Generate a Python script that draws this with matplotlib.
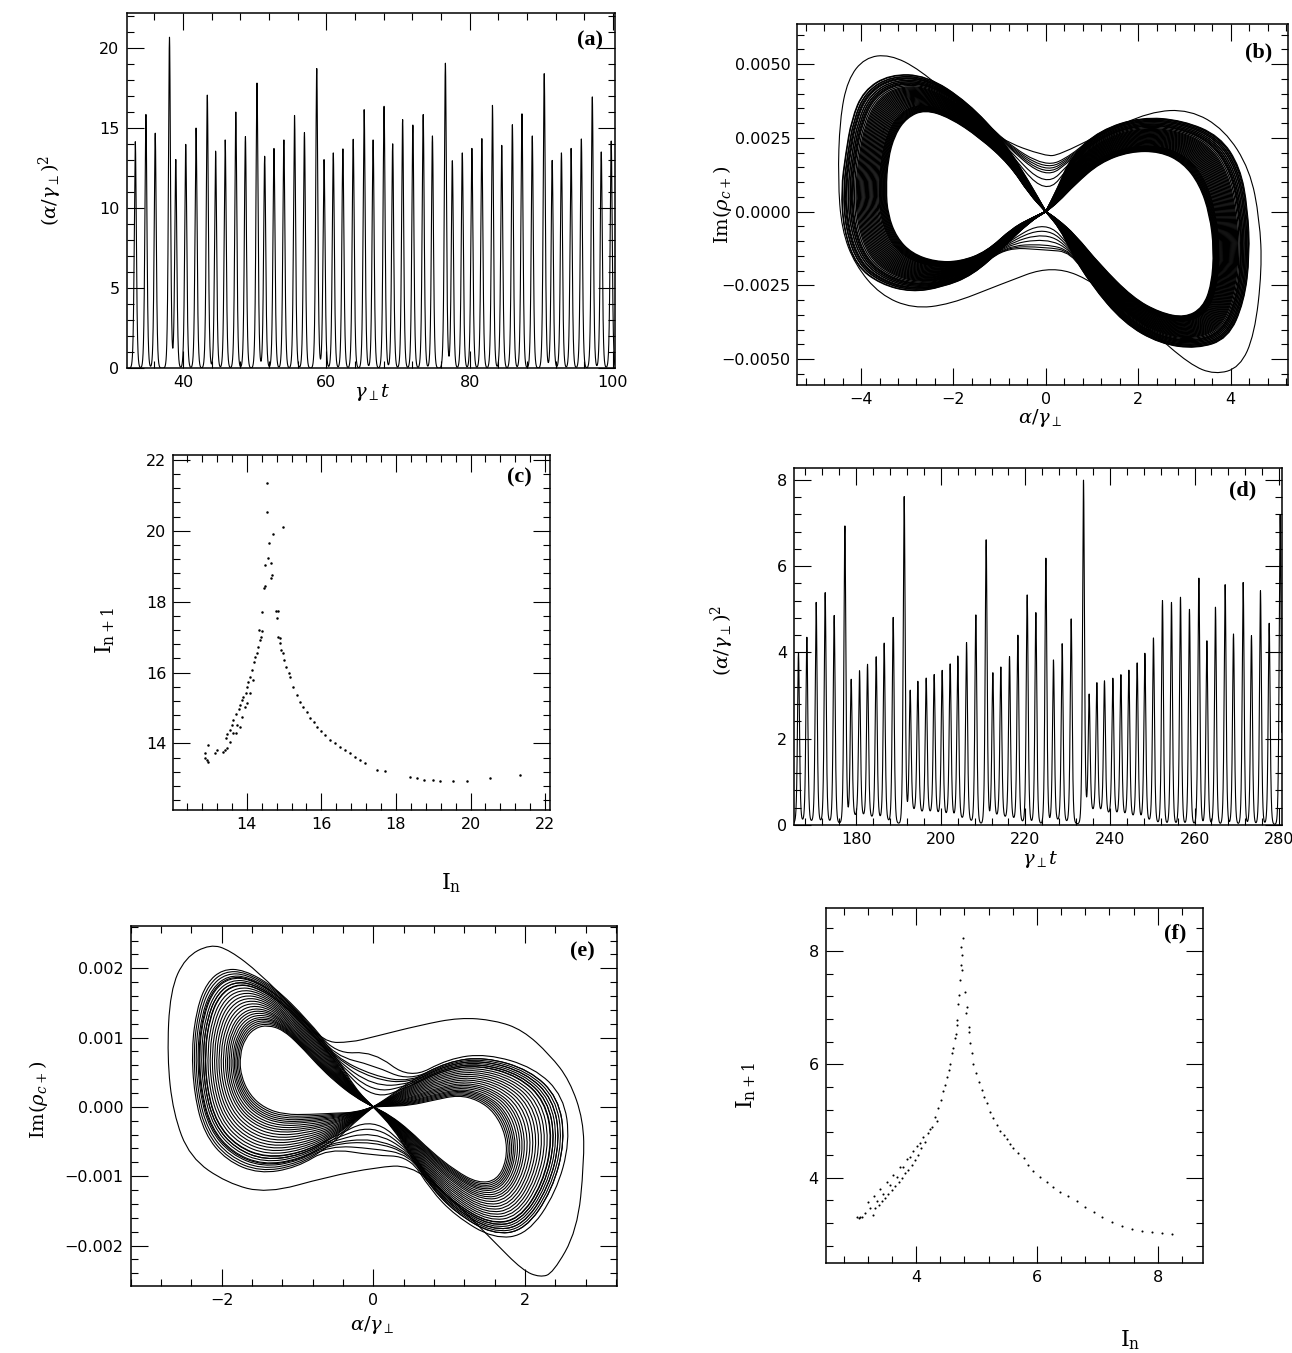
import numpy as np
import matplotlib
matplotlib.use("Agg")
import matplotlib.pyplot as plt
from matplotlib.path import Path
from matplotlib.patches import PathPatch
from matplotlib.ticker import MultipleLocator, FuncFormatter

# ---- (a) pulse peaks: time, height
A_T = [33.33, 34.81, 36.11, 38.10, 38.98, 40.37, 41.81, 43.38, 44.54, 45.88, 47.36, 48.70,
       50.32, 51.39, 52.69, 54.07, 55.56, 56.94, 58.66, 59.68, 60.97, 62.31, 63.75, 65.28,
       66.53, 68.06, 69.26, 70.65, 72.08, 73.52, 74.81, 76.62, 77.59, 78.98, 80.32, 81.71,
       83.19, 84.49, 85.97, 87.31, 88.75, 90.42, 91.53, 92.82, 94.17, 95.60, 97.13, 98.38, 99.77]
A_H = [14.16, 15.86, 14.69, 20.68, 13.04, 13.99, 15.01, 17.07, 13.57, 14.27, 16.01, 14.48,
       17.82, 13.25, 13.74, 14.27, 15.80, 14.73, 18.73, 13.04, 13.46, 13.71, 14.31, 16.16,
       14.27, 16.37, 14.03, 15.54, 15.20, 15.86, 14.52, 19.06, 12.97, 13.46, 13.74, 14.35,
       16.43, 13.93, 15.22, 15.90, 14.52, 18.41, 12.99, 13.46, 13.74, 14.33, 16.96, 13.52, 14.20]

# ---- (d) pulse peaks + level of the valleys around each pulse
D_T = [166.36, 168.34, 170.54, 172.67, 174.80, 177.33, 178.82, 180.79, 182.68, 184.73, 186.62,
       188.75, 191.35, 192.77, 194.58, 196.55, 198.44, 200.33, 202.22, 204.03, 206.09, 208.29,
       210.73, 212.31, 214.20, 216.25, 218.23, 220.43, 222.48, 224.85, 226.64, 228.70, 230.83,
       233.74, 235.08, 236.90, 238.70, 240.68, 242.58, 244.47, 246.43, 248.25, 250.28, 252.41,
       254.54, 256.67, 258.79, 261.02, 262.91, 264.94, 267.23, 269.20, 271.49, 273.45, 275.58,
       277.64, 280.24]
D_H = [4.00, 4.35, 5.16, 5.39, 4.86, 6.88, 3.38, 3.56, 3.71, 3.89, 4.21, 4.81, 7.52, 3.13, 3.30,
       3.38, 3.46, 3.56, 3.71, 3.90, 4.23, 4.87, 6.56, 3.54, 3.65, 3.90, 4.39, 5.33, 4.93, 6.16,
       3.84, 4.20, 4.78, 7.89, 3.04, 3.26, 3.31, 3.38, 3.46, 3.57, 3.74, 3.97, 4.33, 5.20, 5.16,
       5.28, 5.00, 5.72, 4.27, 5.05, 5.57, 4.43, 5.62, 4.39, 5.43, 4.68, 7.19]
D_B = [0.10, 0.10, 0.10, 0.10, 0.08, 0.03, 0.22, 0.22, 0.20, 0.18, 0.14, 0.07, 0.00, 0.33, 0.31,
       0.29, 0.27, 0.25, 0.22, 0.18, 0.14, 0.07, 0.00, 0.22, 0.20, 0.18, 0.10, 0.07, 0.07, 0.00,
       0.14, 0.10, 0.07, 0.00, 0.33, 0.31, 0.29, 0.27, 0.25, 0.22, 0.18, 0.14, 0.07, 0.03, 0.03,
       0.03, 0.03, 0.02, 0.03, 0.03, 0.02, 0.03, 0.02, 0.03, 0.02, 0.03, 0.00]

# ---- (c) return map points I_n, I_n+1
C_X = [14.55, 14.55, 14.69, 14.98, 14.60, 14.56, 14.49, 14.64, 14.67, 14.66, 14.49, 14.45, 14.40,
       14.78, 14.83, 14.80, 14.85, 14.89, 14.33, 14.42, 14.38, 14.36,
       14.31, 14.27, 14.22, 14.20, 14.13, 14.09, 14.04, 14.00, 13.98, 13.91, 13.87, 13.82, 13.78,
       13.71, 13.64, 13.60, 13.55, 13.48, 13.45, 13.42, 13.37,
       14.18, 14.09, 14.00, 13.94, 13.87, 13.75, 13.64, 13.55, 13.46, 13.82, 13.71,
       12.88, 12.93, 12.97, 12.95, 13.15, 13.20, 12.88,
       14.89, 14.92, 14.98, 15.01, 15.05, 15.12, 15.16, 15.25, 15.34, 15.43, 15.52, 15.61, 15.70,
       15.79, 15.88, 15.98, 16.10, 16.23, 16.37, 16.50, 16.64, 16.77, 16.90, 17.04, 17.17, 17.49,
       17.71, 18.38, 18.56, 18.74, 19.00, 19.18, 19.54, 19.90, 20.52, 21.33]
C_Y = [21.34, 20.54, 19.91, 20.12, 19.65, 19.23, 19.04, 19.08, 18.76, 18.66, 18.43, 18.38, 17.72,
       17.75, 17.75, 17.53, 17.01, 16.97, 17.20, 17.17, 17.01, 16.92,
       16.73, 16.56, 16.45, 16.31, 16.07, 15.88, 15.74, 15.60, 15.41, 15.32, 15.22, 15.08, 14.96,
       14.83, 14.66, 14.52, 14.38, 14.26, 14.14, 13.81, 13.75,
       15.79, 15.41, 15.13, 15.04, 14.75, 14.52, 14.28, 14.05, 13.86, 14.47, 14.28,
       13.72, 13.53, 13.48, 13.95, 13.72, 13.81, 13.58,
       16.82, 16.64, 16.54, 16.35, 16.17, 15.98, 15.88, 15.60, 15.37, 15.18, 15.04, 14.89, 14.71,
       14.61, 14.47, 14.36, 14.24, 14.09, 14.00, 13.91, 13.81, 13.72, 13.62, 13.53, 13.45, 13.25,
       13.22, 13.04, 13.01, 12.98, 12.96, 12.95, 12.95, 12.95, 13.01, 13.11]

# ---- (f) return map points
F_X = [4.77, 4.74, 4.76, 4.75, 4.73, 4.76, 4.81, 4.71, 4.84, 4.70, 4.82, 4.67, 4.68, 4.88, 4.88,
       4.66, 4.65, 4.89,
       4.61, 4.60, 4.57, 4.54, 4.51, 4.48, 4.45, 4.41, 4.37, 4.31, 4.26, 4.20, 4.15, 4.09, 4.04,
       3.98, 3.93, 3.87, 3.82, 3.76, 3.71, 3.65, 3.60, 3.54, 3.49, 3.43, 3.38, 3.32, 3.29,
       4.12, 4.01, 3.90, 3.79, 3.68, 3.57, 3.46, 3.35, 3.24, 3.16, 3.10, 3.05, 3.07, 3.02,
       4.34, 4.23, 4.06, 3.95, 3.85, 3.74, 3.62, 3.52, 3.41, 3.30, 3.20,
       4.92, 4.95, 5.00, 5.04, 5.09, 5.13, 5.17, 5.23, 5.28, 5.34, 5.39, 5.45, 5.50, 5.56, 5.61,
       5.69, 5.78, 5.86, 5.94, 6.05, 6.16, 6.27, 6.38, 6.52, 6.66, 6.80, 6.94, 7.07, 7.24, 7.41,
       7.57, 7.74, 7.90, 8.07, 8.23]
F_Y = [8.23, 8.07, 7.92, 7.75, 7.48, 7.66, 7.28, 7.22, 7.01, 7.07, 6.90, 6.78, 6.69, 6.66, 6.57,
       6.54, 6.46, 6.37,
       6.28, 6.19, 6.01, 5.90, 5.78, 5.63, 5.52, 5.37, 5.22, 5.07, 4.90, 4.78, 4.63, 4.52, 4.40,
       4.31, 4.22, 4.14, 4.08, 4.00, 3.93, 3.85, 3.78, 3.72, 3.65, 3.58, 3.52, 3.46, 3.34,
       4.72, 4.55, 4.37, 4.19, 4.02, 3.87, 3.72, 3.58, 3.46, 3.37, 3.31, 3.28, 3.30, 3.30,
       5.00, 4.86, 4.61, 4.47, 4.33, 4.19, 4.05, 3.93, 3.80, 3.68, 3.57,
       6.19, 6.01, 5.84, 5.69, 5.54, 5.43, 5.31, 5.16, 5.05, 4.93, 4.83, 4.75, 4.68, 4.60, 4.53,
       4.43, 4.34, 4.22, 4.11, 4.02, 3.93, 3.84, 3.75, 3.67, 3.58, 3.49, 3.40, 3.31, 3.22, 3.15,
       3.10, 3.06, 3.04, 3.03, 3.01]

# ---- (b) attractor: inner / outer edge of the dense band of each lobe
B_LIN_X = [-0.24, -0.71, -1.28, -1.86, -2.40, -2.90, -3.23, -3.42, -3.46, -3.42, -3.27, -3.01,
           -2.62, -2.08, -1.43, -0.78, -0.35]
B_LIN_Y = [-0.00017, -0.00054, -0.00136, -0.00170, -0.00170, -0.00142, -0.00088, -0.00010,
           0.00075, 0.00176, 0.00261, 0.00319, 0.00346, 0.00319, 0.00251, 0.00159, 0.00058]
B_LOUT_X = [-0.35, -0.89, -1.54, -2.19, -2.84, -3.48, -3.98, -4.24, -4.29, -4.20, -4.07, -3.81,
            -3.27, -2.51, -1.65, -0.89, -0.35]
B_LOUT_Y = [-0.00034, -0.00112, -0.00204, -0.00244, -0.00258, -0.00231, -0.00170, -0.00054,
            0.00075, 0.00193, 0.00305, 0.00397, 0.00448, 0.00441, 0.00353, 0.00227, 0.00092]
B_RIN_X = [0.26, 0.63, 1.17, 1.88, 2.47, 3.01, 3.40, 3.59, 3.64, 3.55, 3.33, 2.97, 2.47, 1.82,
           1.17, 0.63, 0.26]
B_RIN_Y = [-0.00027, -0.00078, -0.00180, -0.00292, -0.00343, -0.00360, -0.00326, -0.00248,
           -0.00129, -0.00010, 0.00092, 0.00166, 0.00204, 0.00204, 0.00166, 0.00092, 0.00031]
B_ROUT_X = [0.30, 0.56, 1.00, 1.71, 2.47, 3.23, 3.87, 4.20, 4.31, 4.26, 4.09, 3.66, 2.90, 2.03,
            1.17, 0.56, 0.26]
B_ROUT_Y = [-0.00054, -0.00129, -0.00237, -0.00366, -0.00434, -0.00451, -0.00417, -0.00298,
            -0.00146, 0.00007, 0.00142, 0.00244, 0.00295, 0.00305, 0.00261, 0.00176, 0.00075]
B_OUT_X = [0.00, -1.00, -1.86, -2.73, -3.38, -3.92, -4.29, -4.46, -4.50, -4.42, -4.13, -3.59,
           -2.88, -2.08, -1.00, 0.15, 1.17, 2.25, 3.12, 3.66, 4.20, 4.52, 4.68, 4.63, 4.42, 3.87,
           3.12, 2.25, 1.17, 0.30]
B_OUT_Y = [0.00187, 0.00244, 0.00363, 0.00482, 0.00533, 0.00522, 0.00448, 0.00312, 0.00109,
           -0.00061, -0.00180, -0.00282, -0.00329, -0.00315, -0.00248, -0.00180, -0.00248,
           -0.00400, -0.00519, -0.00553, -0.00529, -0.00417, -0.00197, -0.00027, 0.00142,
           0.00278, 0.00346, 0.00339, 0.00261, 0.00193]
B_LF = [0.0, 0.02, 0.04, 0.06, 0.08, 0.1, 0.12, 0.14, 0.16, 0.18, 0.2, 0.23, 0.26, 0.29, 0.32,
        0.35, 0.38, 0.41, 0.44, 0.47, 0.5, 0.53, 0.56, 0.59, 0.62, 0.65, 0.68, 0.71, 0.74, 0.77,
        0.8, 0.84, 0.88, 0.92, 0.96, 1.0, 1.06, 1.11, 1.17]
B_RF = [0.0, 0.02, 0.04, 0.06, 0.08, 0.1, 0.12, 0.14, 0.16, 0.18, 0.2, 0.23, 0.26, 0.29, 0.32,
        0.35, 0.38, 0.41, 0.44, 0.47, 0.5, 0.53, 0.56, 0.59, 0.62, 0.65, 0.68, 0.71, 0.74, 0.77,
        0.8, 0.84, 0.88, 0.92, 0.96, 1.0, 1.05, 1.09, 1.14]
B_PF = [0.9, 0.95, 1.0, 1.04, 1.08, 1.12, 1.16]
B_PTOP = [0.0005, 0.0008, 0.0011, 0.0012, 0.0013, 0.0014, 0.0015]
B_PBOT = [-0.0003, -0.0005, -0.0007, -0.0009, -0.0011, -0.0012, -0.0013]

# ---- (e) attractor
E_LIN_X = [-0.24, -0.50, -0.84, -1.17, -1.43, -1.63, -1.75, -1.76, -1.69, -1.56, -1.39, -1.19,
           -0.97, -0.73, -0.50, -0.24]
E_LIN_Y = [-0.00008, -0.00009, -0.00011, -0.00011, -0.00002, 0.00017, 0.00046, 0.00075, 0.00099,
           0.00114, 0.00118, 0.00111, 0.00089, 0.00060, 0.00036, 0.00014]
E_LOUT_X = [-0.24, -0.57, -0.97, -1.43, -1.82, -2.09, -2.22, -2.25, -2.18, -2.05, -1.85, -1.59,
            -1.23, -0.84, -0.50, -0.24]
E_LOUT_Y = [-0.00019, -0.00048, -0.00070, -0.00077, -0.00060, -0.00026, 0.00024, 0.00082,
            0.00132, 0.00164, 0.00180, 0.00178, 0.00154, 0.00111, 0.00067, 0.00024]
E_RIN_X = [0.22, 0.48, 0.75, 1.08, 1.38, 1.63, 1.76, 1.75, 1.60, 1.38, 1.12, 0.81, 0.48, 0.22]
E_RIN_Y = [-0.00012, -0.00034, -0.00063, -0.00092, -0.00110, -0.00106, -0.00077, -0.00041,
           -0.00008, 0.00010, 0.00017, 0.00010, 0.00002, 0.00001]
E_ROUT_X = [0.25, 0.48, 0.75, 1.08, 1.54, 1.94, 2.26, 2.40, 2.30, 1.95, 1.41, 0.95, 0.48, 0.22]
E_ROUT_Y = [-0.00027, -0.00063, -0.00106, -0.00142, -0.00172, -0.00166, -0.00113, -0.00048,
            0.00010, 0.00046, 0.00063, 0.00056, 0.00031, 0.00013]
E_OUT_X = [0.00, 0.62, 1.14, 1.60, 1.97, 2.33, 2.59, 2.77, 2.78, 2.69, 2.37, 2.20, 1.97, 1.58,
           0.92, 0.48, 0.05, -0.61, -1.40, -1.93, -2.42, -2.64, -2.72, -2.68, -2.48, -2.15,
           -1.89, -1.50, -1.06, -0.66, -0.30]
E_OUT_Y = [0.00101, 0.00118, 0.00129, 0.00125, 0.00111, 0.00075, 0.00038, -0.00019, -0.00081,
           -0.00178, -0.00240, -0.00246, -0.00236, -0.00193, -0.00120, -0.00084, -0.00087,
           -0.00101, -0.00125, -0.00110, -0.00073, -0.00009, 0.00072, 0.00168, 0.00216, 0.00235,
           0.00226, 0.00193, 0.00144, 0.00093, 0.00093]
E_LF = [0.0, 0.04, 0.08, 0.12, 0.16, 0.2, 0.25, 0.3, 0.35, 0.4, 0.46, 0.52, 0.58, 0.64, 0.7,
        0.76, 0.82, 0.88, 0.94, 1.0, 1.12, 1.25]
E_RF = [0.0, 0.04, 0.08, 0.12, 0.16, 0.2, 0.25, 0.3, 0.35, 0.4, 0.46, 0.52, 0.58, 0.64, 0.7,
        0.76, 0.82, 0.88, 0.94, 1.0, 1.1, 1.2]
E_PF = [0.95, 1.0, 1.05, 1.1, 1.15, 1.2, 1.3]
E_PTOP = [0.0001, 0.0002, 0.0003, 0.0004, 0.00045, 0.0006, 0.0008]
E_PBOT = [-0.00015, -0.00025, -0.00035, -0.00045, -0.0005, -0.0006, -0.0007]

W, H = 1292, 1353
MINUS = "\u2212"


def px_axes(fig, x0, y0, x1, y1):
    return fig.add_axes([x0 / W, 1 - y1 / H, (x1 - x0) / W, (y1 - y0) / H])


def fmt(nd):
    def f(v, pos):
        s = "{:.{}f}".format(0.0 if abs(v) < 1e-12 else v, nd)
        return s.replace("-", MINUS)
    return FuncFormatter(f)


def setup(ax, xlim, ylim, xmaj, xmin, ymaj, ymin, xnd=0, ynd=0):
    ax.set_xlim(*xlim)
    ax.set_ylim(*ylim)
    ax.xaxis.set_major_locator(MultipleLocator(xmaj))
    ax.xaxis.set_minor_locator(MultipleLocator(xmin))
    ax.yaxis.set_major_locator(MultipleLocator(ymaj))
    ax.yaxis.set_minor_locator(MultipleLocator(ymin))
    ax.xaxis.set_major_formatter(fmt(xnd))
    ax.yaxis.set_major_formatter(fmt(ynd))
    ax.tick_params(which="both", direction="in", top=True, right=True, width=0.8)
    ax.tick_params(which="major", length=12, labelsize=11.5, pad=5)
    ax.tick_params(which="minor", length=5)
    for s in ax.spines.values():
        s.set_linewidth(1.1)


def panel_tag(ax, txt, fx, fy):
    ax.text(fx, fy, txt, transform=ax.transAxes, ha="center", va="center",
            fontsize=16, fontweight="bold", family="Liberation Serif")


def fig_label(fig, px, py, txt, rot=0, size=14):
    fig.text(px / W, 1 - py / H, txt, ha="center", va="center", rotation=rot, fontsize=size)


def sech2(x):
    return 1.0 / np.cosh(x) ** 2


def pulse_train(t, tp, hp, w, base=None, wb=1.2):
    y = np.zeros_like(t)
    for k in range(len(tp)):
        b = 0.0 if base is None else base[k]
        y += (hp[k] - b) * sech2((t - tp[k]) / w)
        if base is not None:
            y += b * sech2((t - tp[k]) / wb) / 1.2
    return y


# quadratic bezier loop through the midpoints of a control polygon
def bezier_loop(xs, ys):
    n = len(xs)
    mx = [(xs[i] + xs[(i + 1) % n]) / 2 for i in range(n)]
    my = [(ys[i] + ys[(i + 1) % n]) / 2 for i in range(n)]
    verts = [(mx[-1], my[-1])]
    codes = [Path.MOVETO]
    for i in range(n):
        verts += [(xs[i], ys[i]), (mx[i], my[i])]
        codes += [Path.CURVE3, Path.CURVE3]
    return Path(verts, codes)


def draw_loop(ax, xs, ys, lw=0.8):
    ax.add_patch(PathPatch(bezier_loop(xs, ys), fill=False, ec="k", lw=lw))


def blend(a, b, f):
    return [(1 - f) * p + f * q for p, q in zip(a, b)]


def attractor(ax, lin, lout, rin, rout, lf, rf, pf, ptop, pbot, outer, lw=0.8):
    # loops around each lobe, all pinched through the saddle at the origin
    for f in lf:
        draw_loop(ax, [0, 0] + blend(lin[0], lout[0], f), [0, 0] + blend(lin[1], lout[1], f), lw)
    for f in rf:
        draw_loop(ax, [0, 0] + blend(rin[0], rout[0], f), [0, 0] + blend(rin[1], rout[1], f), lw)
    # loops going round both lobes, turning back above / below the saddle
    for f, gt, gb in zip(pf, ptop, pbot):
        lx, ly = blend(lin[0], lout[0], f)[1:-1], blend(lin[1], lout[1], f)[1:-1]
        rx, ry = blend(rin[0], rout[0], f)[1:-1], blend(rin[1], rout[1], f)[1:-1]
        draw_loop(ax, lx + [0] + rx[::-1] + [0], ly + [gt] + ry[::-1] + [gb], 0.8)
    draw_loop(ax, outer[0], outer[1], 0.8)


def main():
    plt.rcParams["font.family"] = "DejaVu Sans"
    plt.rcParams["mathtext.fontset"] = "dejavuserif"
    fig = plt.figure(figsize=(W / 100, H / 100), dpi=100)

    # (a)
    ax = px_axes(fig, 126.5, 13, 615, 368.3)
    t = np.linspace(32.0, 100.6, 20000)
    ax.plot(t, pulse_train(t, A_T, A_H, 0.19), color="k", lw=0.8)
    setup(ax, (32.1, 100.3), (0, 22.2), 20, 4, 5, 1)
    panel_tag(ax, "(a)", 0.949, 0.924)
    fig_label(fig, 50, 190, r"$(\alpha/\gamma_{\perp})^2$", rot=90)
    fig_label(fig, 372, 392, r"$\gamma_{\perp}t$")

    # (b)
    ax = px_axes(fig, 797.3, 24, 1288.3, 385)
    attractor(ax, (B_LIN_X, B_LIN_Y), (B_LOUT_X, B_LOUT_Y), (B_RIN_X, B_RIN_Y),
              (B_ROUT_X, B_ROUT_Y), B_LF, B_RF, B_PF, B_PTOP, B_PBOT, (B_OUT_X, B_OUT_Y), lw=1.0)
    setup(ax, (-5.38, 5.25), (-0.00588, 0.00636), 2, 0.4, 0.0025, 0.0005, 0, 4)
    panel_tag(ax, "(b)", 0.939, 0.92)
    fig_label(fig, 722, 205, r"$\mathrm{Im}(\rho_{c+})$", rot=90)
    fig_label(fig, 1040, 418, r"$\alpha/\gamma_{\perp}$")

    # (c)
    ax = px_axes(fig, 173.3, 455, 550, 810)
    ax.plot(C_X, C_Y, "o", color="k", ms=1.8, mew=0)
    setup(ax, (12.03, 22.13), (12.12, 22.14), 2, 0.4, 2, 0.4)
    panel_tag(ax, "(c)", 0.92, 0.938)
    fig_label(fig, 105, 630, r"$\mathrm{I}_{\mathrm{n+1}}$", rot=90, size=16)
    fig_label(fig, 451, 883, r"$\mathrm{I}_{\mathrm{n}}$", size=16)

    # (d)
    ax = px_axes(fig, 794, 468.3, 1281.7, 825)
    t = np.linspace(164.0, 282.0, 24000)
    ax.plot(t, pulse_train(t, D_T, D_H, 0.3, D_B), color="k", lw=0.8)
    setup(ax, (165.3, 280.6), (0, 8.27), 20, 4, 2, 0.4)
    panel_tag(ax, "(d)", 0.92, 0.938)
    fig_label(fig, 722, 640, r"$(\alpha/\gamma_{\perp})^2$", rot=90)
    fig_label(fig, 1040, 859, r"$\gamma_{\perp}t$")

    # (e)
    ax = px_axes(fig, 130.7, 926, 616.7, 1285.7)
    attractor(ax, (E_LIN_X, E_LIN_Y), (E_LOUT_X, E_LOUT_Y), (E_RIN_X, E_RIN_Y),
              (E_ROUT_X, E_ROUT_Y), E_LF, E_RF, E_PF, E_PTOP, E_PBOT, (E_OUT_X, E_OUT_Y))
    setup(ax, (-3.2, 3.21), (-0.00258, 0.00261), 2, 0.4, 0.001, 0.0002, 0, 3)
    panel_tag(ax, "(e)", 0.93, 0.928)
    fig_label(fig, 38, 1100, r"$\mathrm{Im}(\rho_{c+})$", rot=90)
    fig_label(fig, 372, 1325, r"$\alpha/\gamma_{\perp}$")

    # (f)
    ax = px_axes(fig, 825.7, 908.3, 1202.7, 1263.3)
    ax.plot(F_X, F_Y, "o", color="k", ms=1.5, mew=0)
    setup(ax, (2.505, 8.745), (2.49, 8.75), 2, 0.4, 2, 0.4)
    panel_tag(ax, "(f)", 0.926, 0.93)
    fig_label(fig, 746, 1085, r"$\mathrm{I}_{\mathrm{n+1}}$", rot=90, size=16)
    fig_label(fig, 1130, 1340, r"$\mathrm{I}_{\mathrm{n}}$", size=16)

    fig.savefig("out.png", dpi=100)


if __name__ == "__main__":
    main()
